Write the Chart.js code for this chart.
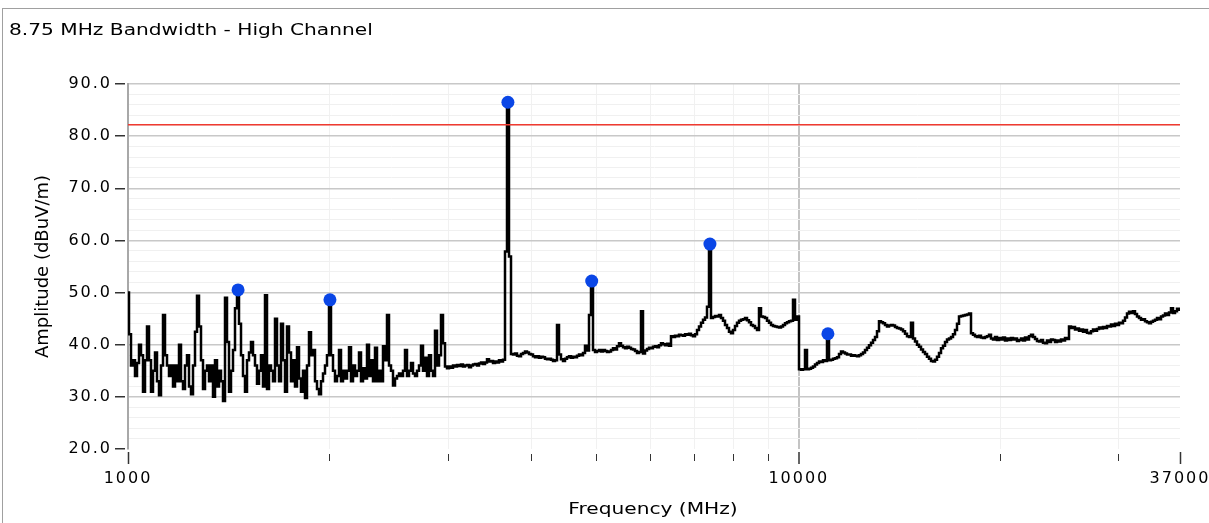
<!DOCTYPE html>
<html>
<head>
<meta charset="utf-8">
<script src="https://cdn.jsdelivr.net/npm/chart.js@4.4.1/dist/chart.umd.min.js"></script>
<style>
  html, body { margin: 0; padding: 0; background: #fff; overflow: hidden; }
  #frame {
    position: absolute; left: 2px; top: 8px; width: 1300px; height: 600px;
    border-left: 1px solid #a0a0a0; border-top: 1px solid #a0a0a0;
  }
  .caption {
    position: absolute; font: 16px "DejaVu Sans"; line-height: 20px; color: #000;
    white-space: nowrap;
  }
  #title { left: 9px; top: 20px; transform: scaleX(1.26); transform-origin: 0 0; }
  #xTitle { left: 653px; top: 499px; transform: translateX(-50%) scaleX(1.26); }
  #canvas { position: absolute; left: 0; top: 0; }
</style>
</head>
<body>
<div id="frame"></div>
<canvas id="canvas" width="1240" height="523"></canvas>
<div id="title" class="caption">8.75 MHz Bandwidth - High Channel</div>
<div id="xTitle" class="caption">Frequency (MHz)</div>
<script>
    // sweep: evenly spaced points on the log frequency axis
    var sweepStart = 1000;
    var sweepStop = 37000;

    // peak-hold trace, dBuV/m
    var traceAmp = [
        50, 42, 36, 37, 34, 36.5, 40, 38, 31, 37,
        43.5, 37, 31, 35, 38.5, 33, 30.3, 36, 45.7, 38,
        36, 34, 36, 32, 36, 33, 40, 33, 31.5, 36,
        38, 32, 30.5, 36, 42.5, 49.4, 43.5, 37, 31.5, 35,
        36, 33, 36, 30, 37, 32, 35, 33, 29.2, 49,
        40.5, 31, 35, 39, 47, 50.5, 44, 38, 34, 31,
        37, 38.5, 40.5, 38, 36, 32.5, 35, 38, 32, 49.5,
        31.5, 36, 35, 33, 45, 36, 33, 44, 37, 31,
        43.5, 38.5, 33, 37, 32, 39.5, 33.5, 31, 35, 29.8,
        36, 42.4, 38, 39, 33, 31.5, 30.5, 33, 34.5, 36,
        38, 48.6, 38, 35, 33, 34, 39, 33, 35, 33.5,
        35, 39.5, 33, 36, 34, 35, 38.5, 33, 35.5, 33.5,
        40, 34, 37, 33, 39.4, 33, 35, 33, 39.7, 37,
        45.7, 36, 35, 32.2, 33.5, 34, 34.5, 34, 35, 39,
        34, 35, 36.5, 34.5, 34, 35, 36, 39.8, 35, 37.5,
        34, 38, 35, 34, 42.7, 36, 38, 45.7, 40.3, 35.8,
        35.5, 35.8, 35.6, 36, 35.8, 36.1, 35.9, 36.2, 35.8, 36,
        36.1, 35.7, 36, 36.2, 36.3, 36, 36.4, 36.6, 36.3, 36.6,
        37.2, 36.8, 36.9, 36.5, 36.8, 36.6, 37, 36.8, 37.1, 57.9,
        86.5, 56.9, 38.2, 38.1, 38.3, 37.9, 37.8, 38.2, 38.4, 38.7,
        38.5, 38.2, 38.1, 37.8, 37.6, 37.8, 37.5, 37.7, 37.6, 37.3,
        37.2, 37.3, 37.1, 36.9, 37, 43.8, 38.1, 37.2, 36.9, 37.3,
        37.6, 37.8, 37.5, 37.7, 37.6, 37.9, 38.1, 38, 38.4, 39.8,
        38.9, 45.7, 52.2, 39, 38.6, 38.8, 39, 38.7, 39, 38.8,
        38.6, 38.7, 39, 39.3, 39.1, 39.7, 40.3, 39.8, 39.5, 39.3,
        39.6, 39.4, 39.2, 39.1, 38.8, 38.4, 38.6, 46.4, 38.3, 38.9,
        39.2, 39.4, 39.3, 39.6, 39.7, 39.5, 39.9, 40.3, 40.1, 39.9,
        40.2, 39.8, 41.6, 41.5, 41.7, 41.6, 41.9, 41.8, 41.7, 42,
        41.9, 42.1, 41.8, 41.6, 42, 42.8, 43.5, 44.2, 44.8, 45.2,
        47.3, 59.3, 45.1, 45.3, 45.5, 45.4, 45.7, 45.1, 44.6, 43.8,
        43.2, 42.5, 42.2, 42.8, 43.6, 44.2, 44.6, 44.8, 44.9, 45.1,
        44.7, 44.3, 43.8, 43.6, 43.2, 42.8, 47, 45.4, 45.3, 45.1,
        44.6, 44.2, 43.8, 43.6, 43.5, 43.4, 43.3, 43.5, 43.8, 44.1,
        44.3, 44.5, 44.6, 48.6, 44.8, 45.4, 35.3, 35.2, 35.3, 39,
        35.3, 35.4, 35.6, 35.8, 36.2, 36.5, 36.8, 36.7, 37, 36.9,
        42.1, 37, 37.1, 37.3, 37.4, 37.6, 38.2, 38.7, 38.5, 38.3,
        38.1, 38.1, 37.9, 38, 37.9, 37.8, 38, 38.2, 38.5, 39,
        39.4, 39.9, 40.4, 40.9, 41.5, 42.6, 44.5, 44.3, 44.1, 43.8,
        43.5, 43.7, 43.8, 43.7, 43.4, 43.2, 43.1, 42.9, 42.6, 42.1,
        41.6, 41.5, 44.2, 41.2, 40.6, 40, 39.6, 39.1, 38.6, 38.2,
        37.7, 37.3, 36.9, 36.8, 37.1, 37.7, 38.4, 39.3, 39.8, 40.5,
        41, 41.2, 41.5, 42, 42.8, 44, 45.4, 45.5, 45.6, 45.7,
        45.8, 46, 42.2, 41.9, 41.6, 41.5, 41.7, 41.4, 41.3, 41.5,
        41.6, 41.9, 41.2, 41, 41.5, 40.9, 41.3, 41, 41.4, 40.8,
        41.2, 40.9, 41.3, 41, 41.2, 40.7, 40.9, 41.2, 40.8, 41.4,
        41, 41.6, 41.9, 41.5, 41.1, 40.7, 40.6, 40.9, 40.4, 40.3,
        40.8, 40.5, 41, 40.9, 40.5, 40.8, 40.6, 41, 40.8, 41.3,
        41.1, 43.5, 43.2, 43.4, 42.9, 43.1, 42.7, 42.9, 42.5, 42.8,
        42.3, 42.2, 42.6, 42.9, 42.7, 43, 43.3, 43.1, 43.4, 43.2,
        43.6, 43.5, 43.9, 43.6, 44, 43.8, 44.2, 44.1, 44.6, 45.2,
        46, 46.3, 46.1, 46.4, 45.9, 45.4, 45.1, 44.8, 44.9, 44.5,
        44.3, 44.1, 44.4, 44.6, 44.8, 45.1, 44.9, 45.4, 45.6, 46,
        45.7, 46.2, 47, 46.1, 46.4, 46.9, 46.7
    ];

    // peak markers
    var markerFreq = [1459, 2000, 3684, 4912, 7370, 11050];
    var markerAmp = [50.5, 48.6, 86.5, 52.2, 59.3, 42.1];

    // limit line
    var limitLevel = 82.2;

    // axis ticks
    var xLabelTicks = [1000, 10000, 37000];
    var xMinorTicks = [2000, 3000, 4000, 5000, 6000, 7000, 8000, 9000, 20000, 30000];
    var yLabelTicks = [20, 30, 40, 50, 60, 70, 80, 90];
    var yMinorStep = 2;

    var FONT = 'DejaVu Sans';
    var CLEAR = 'rgba(0,0,0,0)';

    function isLabelX(v) { return xLabelTicks.indexOf(v) >= 0; }
    function isLabelY(v) { return yLabelTicks.indexOf(v) >= 0; }

    var tracePoints = traceAmp.map(function (a, i) {
        var f = sweepStart * Math.pow(sweepStop / sweepStart, i / (traceAmp.length - 1));
        return { x: f, y: a };
    });
    var markerPoints = markerFreq.map(function (f, i) {
        return { x: f, y: markerAmp[i] };
    });
    var limitPoints = [{ x: sweepStart, y: limitLevel }, { x: sweepStop, y: limitLevel }];

    // tick labels are drawn after the datasets (ticks.z = 1); space them out a little
    var wideTicks = {
        id: 'wideTicks',
        afterDatasetsDraw: function (chart) { chart.ctx.letterSpacing = '2px'; },
        afterDraw: function (chart) { chart.ctx.letterSpacing = '0px'; }
    };

    var config = {
        type: 'line',
        data: {
            datasets: [{
                label: 'Peaks',
                data: markerPoints,
                showLine: false,
                pointRadius: 6.5,
                pointBackgroundColor: '#0a46e6',
                pointBorderWidth: 0
            }, {
                label: 'Limit',
                data: limitPoints,
                borderColor: '#f03a30',
                borderWidth: 1.5,
                pointRadius: 0
            }, {
                label: 'Trace',
                data: tracePoints,
                borderColor: '#000',
                borderWidth: 2.5,
                pointRadius: 0,
                stepped: 'middle'
            }]
        },
        options: {
            responsive: false,
            animation: false,
            parsing: false,
            layout: { padding: { top: 84, right: 60, bottom: 0, left: 0 } },
            plugins: {
                legend: { display: false },
                tooltip: { enabled: false }
            },
            scales: {
                x: {
                    type: 'logarithmic',
                    min: sweepStart,
                    max: sweepStop,
                    afterBuildTicks: function (scale) {
                        scale.ticks = xLabelTicks.concat(xMinorTicks)
                            .sort(function (a, b) { return a - b; })
                            .map(function (v) { return { value: v }; });
                    },
                    afterFit: function (scale) { scale.height = 74; },
                    border: { display: false },
                    grid: {
                        color: function (c) {
                            if (!c.tick) return CLEAR;
                            if (c.tick.value === 10000) return '#c4c4c4';
                            return isLabelX(c.tick.value) ? CLEAR : '#f1f1f1';
                        },
                        lineWidth: function (c) { return c.tick && c.tick.value === 10000 ? 2 : 1; },
                        tickLength: 16,
                        tickColor: '#333',
                        tickWidth: function (c) { return c.tick && isLabelX(c.tick.value) ? 1.5 : 1; },
                        tickBorderDash: function (c) {
                            return c.tick && isLabelX(c.tick.value) ? [0, 3, 12, 40] : [0, 5, 7, 40];
                        }
                    },
                    ticks: {
                        z: 1,
                        autoSkip: false,
                        maxRotation: 0,
                        padding: 4,
                        color: '#000',
                        font: { family: FONT, size: 16 },
                        callback: function (v) { return isLabelX(v) ? String(v) : ''; }
                    }
                },
                y: {
                    min: yLabelTicks[0],
                    max: yLabelTicks[yLabelTicks.length - 1],
                    afterFit: function (scale) { scale.width = 128; },
                    border: { display: true, color: '#a8a8a8', width: 2 },
                    grid: {
                        color: function (c) {
                            if (!c.tick || c.tick.value === yLabelTicks[0]) return CLEAR;
                            return isLabelY(c.tick.value) ? '#c8c8c8' : '#f0f0f0';
                        },
                        lineWidth: function (c) { return c.tick && isLabelY(c.tick.value) ? 1.5 : 1; },
                        tickLength: 13,
                        tickWidth: 1.5,
                        tickBorderDash: [10, 3],
                        tickColor: function (c) { return c.tick && isLabelY(c.tick.value) ? '#333' : CLEAR; }
                    },
                    ticks: {
                        z: 1,
                        stepSize: yMinorStep,
                        autoSkip: false,
                        padding: 3,
                        color: '#000',
                        font: { family: FONT, size: 16 },
                        callback: function (v) { return isLabelY(v) ? v.toFixed(1) : ''; }
                    },
                    title: {
                        display: true,
                        text: 'Amplitude (dBuV/m)',
                        color: '#000',
                        font: { family: FONT, size: 18 },
                        padding: { top: 33, bottom: 0 }
                    }
                }
            }
        },
        plugins: [wideTicks]
    };

    window.onload = function () {
        window.myChart = new Chart(document.getElementById('canvas'), config);
    };
</script>
</body>
</html>
